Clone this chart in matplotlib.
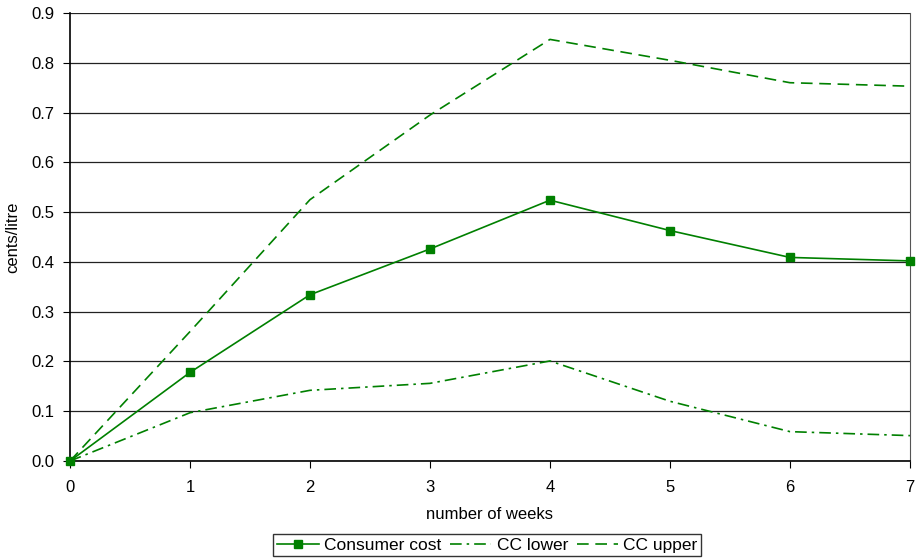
import matplotlib
matplotlib.use("Agg")
import matplotlib.pyplot as plt

weeks = [0, 1, 2, 3, 4, 5, 6, 7]
consumer_cost = [0.0, 0.178, 0.334, 0.426, 0.524, 0.463, 0.409, 0.402]
cc_lower = [0.0, 0.097, 0.142, 0.156, 0.201, 0.120, 0.059, 0.051]
cc_upper = [0.0, 0.260, 0.525, 0.695, 0.847, 0.805, 0.760, 0.753]
yticks = [0.0, 0.1, 0.2, 0.3, 0.4, 0.5, 0.6, 0.7, 0.8, 0.9]

plt.rcParams['font.family'] = ['Liberation Sans', 'DejaVu Sans']
fig = plt.figure(figsize=(9.16, 5.59), dpi=100)
ax = fig.add_axes([0.0764, 0.1753, 0.917, 0.8014])

green = '#008000'
l1, = ax.plot(weeks, consumer_cost, color=green, lw=1.2, marker='s', ms=6, label='Consumer cost', clip_on=False, zorder=5)
l2, = ax.plot(weeks, cc_lower, color=green, lw=1.2, dashes=[7, 3, 1.5, 3], label='CC lower', clip_on=False, zorder=4)
l3, = ax.plot(weeks, cc_upper, color=green, lw=1.2, dashes=[7, 4], label='CC upper', clip_on=False, zorder=4)

ax.set_xlim(0, 7)
ax.set_ylim(0, 0.9)
ax.set_xticks(weeks)
ax.set_yticks(yticks)
ax.set_yticklabels([f"{v:.1f}" for v in yticks])
ax.tick_params(axis='both', labelsize=12, direction='out', length=5, color='black')
ax.tick_params(axis='x', pad=9)
ax.tick_params(axis='y', pad=6)
ax.yaxis.grid(True, color='#222222', lw=0.9)
ax.set_axisbelow(True)
ax.spines['top'].set_visible(False)
ax.spines['right'].set_color('#555555')
ax.spines['left'].set_linewidth(1.2)
ax.spines['bottom'].set_linewidth(1.2)

ax.set_xlabel('number of weeks', fontsize=12, labelpad=8)
ax.set_ylabel('cents/litre', fontsize=12, labelpad=8)

leg = fig.legend(handles=[l1, l2, l3], loc='center', bbox_to_anchor=(0.532, 0.025), ncol=3,
                 fontsize=12.5, frameon=True, fancybox=False, edgecolor='black',
                 handlelength=2.4, handletextpad=0.3, columnspacing=0.5, borderpad=0.2)
leg.get_frame().set_linewidth(1.0)

fig.savefig('out.png', dpi=100)
